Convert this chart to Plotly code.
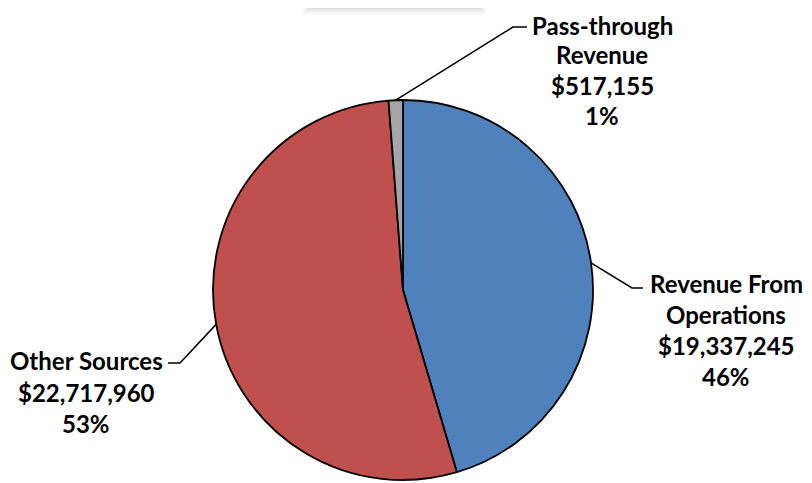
import math
import plotly.graph_objects as go

# ---- data ----
categories = ["Revenue From Operations", "Other Sources", "Pass-through Revenue"]
label_lines = [["Revenue From", "Operations"], ["Other Sources"], ["Pass-through", "Revenue"]]
values = [19337245, 22717960, 517155]
pct_labels = ["46%", "53%", "1%"]
colors = ["#4F81BD", "#C0504D", "#A5A5A5"]

W, H = 812, 483
OFF = 8  # page body margin offset
CX, CY, R = 403 - OFF, 290 - OFF, 190  # pie placement in pixels

def px(x):
    return x / W

def py(y):
    return 1 - y / H

total = sum(values)
pcts = [v / total for v in values]

fig = go.Figure(go.Pie(
    labels=categories, values=values, sort=False, direction="clockwise", rotation=0,
    marker=dict(colors=colors, line=dict(color="black", width=1.8)),
    textinfo="none", hoverinfo="label+value+percent", showlegend=False,
    domain=dict(x=[px(CX - R), px(CX + R)], y=[py(CY + R), py(CY - R)]),
))

# label layout (pixel positions of text line centers and leader-line elbows)
label_x = [726, 86, 602]
label_y = [[283, 314, 345, 376], [360, 392, 423], [25, 54, 85, 116]]
elbows = [((632, 288), (643, 288)), ((180, 363), (168, 363)), ((513, 27), (527, 27))]

shapes = []
annotations = []
cum = 0.0
for i, v in enumerate(values):
    mid = (cum + pcts[i] / 2) * 2 * math.pi
    cum += pcts[i]
    sx = CX + R * math.sin(mid)
    sy = CY - R * math.cos(mid)
    (ex, ey), (fx, fy) = elbows[i]
    ex, ey, fx, fy = ex - OFF, ey - OFF, fx - OFF, fy - OFF
    path = f"M {px(sx)} {py(sy)} L {px(ex)} {py(ey)} L {px(fx)} {py(fy)}"
    shapes.append(dict(type="path", xref="paper", yref="paper", path=path,
                       line=dict(color="black", width=1.5)))
    lines = label_lines[i] + [f"${v:,.0f}", pct_labels[i]]
    for t, ly in zip(lines, label_y[i]):
        annotations.append(dict(x=px(label_x[i] - OFF), y=py(ly - OFF), xref="paper", yref="paper",
                                text=t, showarrow=False, xanchor="center", yanchor="middle",
                                borderpad=0,
                                font=dict(family="Lato", size=24, color="black", weight="bold")))

# cut-off title box with soft shadow at top
for k, op in enumerate([0.015, 0.02, 0.025, 0.03, 0.035]):
    d = 7 - k * 1.5
    shapes.append(dict(type="rect", xref="paper", yref="paper",
                       x0=px(307 - OFF - d + 2), x1=px(478 - OFF + d + 2),
                       y0=py(6 - OFF + d + 2), y1=py(-20),
                       fillcolor=f"rgba(0,0,0,{op})", line=dict(width=0), layer="below"))
shapes.append(dict(type="rect", xref="paper", yref="paper", x0=px(307 - OFF), x1=px(478 - OFF),
                   y0=py(6 - OFF), y1=py(-20), fillcolor="white", line=dict(width=0), layer="below"))

fig.update_layout(width=W, height=H, margin=dict(l=0, r=0, t=0, b=0),
                  paper_bgcolor="white", plot_bgcolor="white",
                  shapes=shapes, annotations=annotations)
fig.write_html("out.html")
